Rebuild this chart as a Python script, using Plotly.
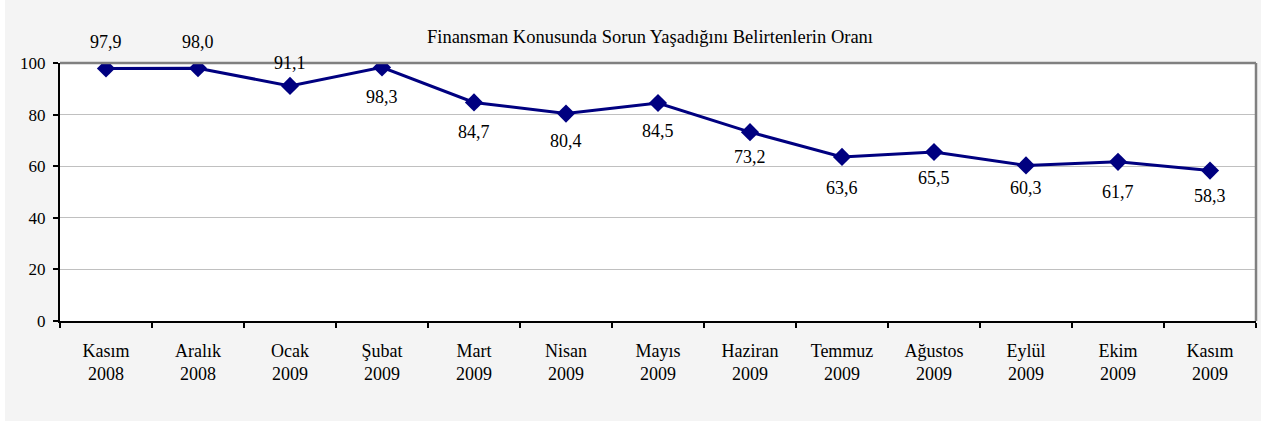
import plotly.graph_objects as go

# Survey months and share of respondents reporting financing problems (%)
months = ["Kasım", "Aralık", "Ocak", "Şubat", "Mart", "Nisan", "Mayıs",
          "Haziran", "Temmuz", "Ağustos", "Eylül", "Ekim", "Kasım"]
years = ["2008", "2008", "2009", "2009", "2009", "2009", "2009",
         "2009", "2009", "2009", "2009", "2009", "2009"]
values = [97.9, 98.0, 91.1, 98.3, 84.7, 80.4, 84.5,
          73.2, 63.6, 65.5, 60.3, 61.7, 58.3]

title_text = "Finansman Konusunda Sorun Yaşadığını Belirtenlerin Oranı"

# Vertical pixel offset of each value label relative to its marker
label_shift = [26, 26, 23, -30, -30, -27, -28, -25, -31, -26, -23, -30, -25]

categories = [f"{m}<br>{y}" for m, y in zip(months, years)]

FONT = "Liberation Serif"
NAVY = "#000080"

fig = go.Figure()
fig.add_trace(go.Scatter(
    x=categories,
    y=values,
    mode="lines+markers",
    line=dict(color=NAVY, width=3),
    marker=dict(symbol="diamond", size=14, color=NAVY),
    hoverinfo="skip",
    showlegend=False,
))

for cat, val, shift in zip(categories, values, label_shift):
    fig.add_annotation(
        x=cat, y=val, text=f"{val:.1f}".replace(".", ","),
        showarrow=False, yshift=shift,
        font=dict(family=FONT, size=18, color="#000000"),
    )

# Top and right frame edges in grey
fig.add_shape(type="line", xref="paper", yref="paper", x0=0, x1=1, y0=1, y1=1,
              line=dict(color="#808080", width=2.5))
fig.add_shape(type="line", xref="paper", yref="paper", x0=1, x1=1, y0=0, y1=1,
              line=dict(color="#808080", width=2.5))
# Thin white strip at the far left edge of the canvas
fig.add_shape(type="rect", xref="paper", yref="paper",
              x0=-60 / 1196, x1=-55 / 1196, y0=-0.5, y1=1.5,
              line=dict(width=0), fillcolor="#ffffff", layer="above")

fig.update_layout(
    width=1261,
    height=421,
    margin=dict(l=60, r=5, t=63, b=100),
    paper_bgcolor="#f4f4f4",
    plot_bgcolor="#ffffff",
    font=dict(family=FONT, color="#000000"),
    title=dict(
        text=title_text,
        xref="container", yref="container",
        x=650 / 1261, y=1 - 37 / 421,
        xanchor="center", yanchor="middle",
        font=dict(family=FONT, size=18.5, color="#000000"),
    ),
    xaxis=dict(
        type="category",
        range=[-0.5, len(categories) - 0.5],
        tickson="boundaries",
        ticks="outside",
        ticklen=5,
        tickwidth=1.5,
        tickcolor="#000000",
        ticklabelstandoff=12,
        showline=True,
        linecolor="#000000",
        linewidth=2,
        showgrid=False,
        tickfont=dict(family=FONT, size=18, color="#000000"),
        fixedrange=True,
    ),
    yaxis=dict(
        range=[0, 100],
        dtick=20,
        ticks="outside",
        ticklen=5,
        tickwidth=1.5,
        tickcolor="#000000",
        ticklabelstandoff=4,
        showline=True,
        linecolor="#000000",
        linewidth=2,
        showgrid=True,
        gridcolor="#c0c0c0",
        gridwidth=1,
        zeroline=False,
        tickfont=dict(family=FONT, size=17, color="#000000"),
        fixedrange=True,
    ),
)

fig.write_html("out.html", config={"displayModeBar": False})
